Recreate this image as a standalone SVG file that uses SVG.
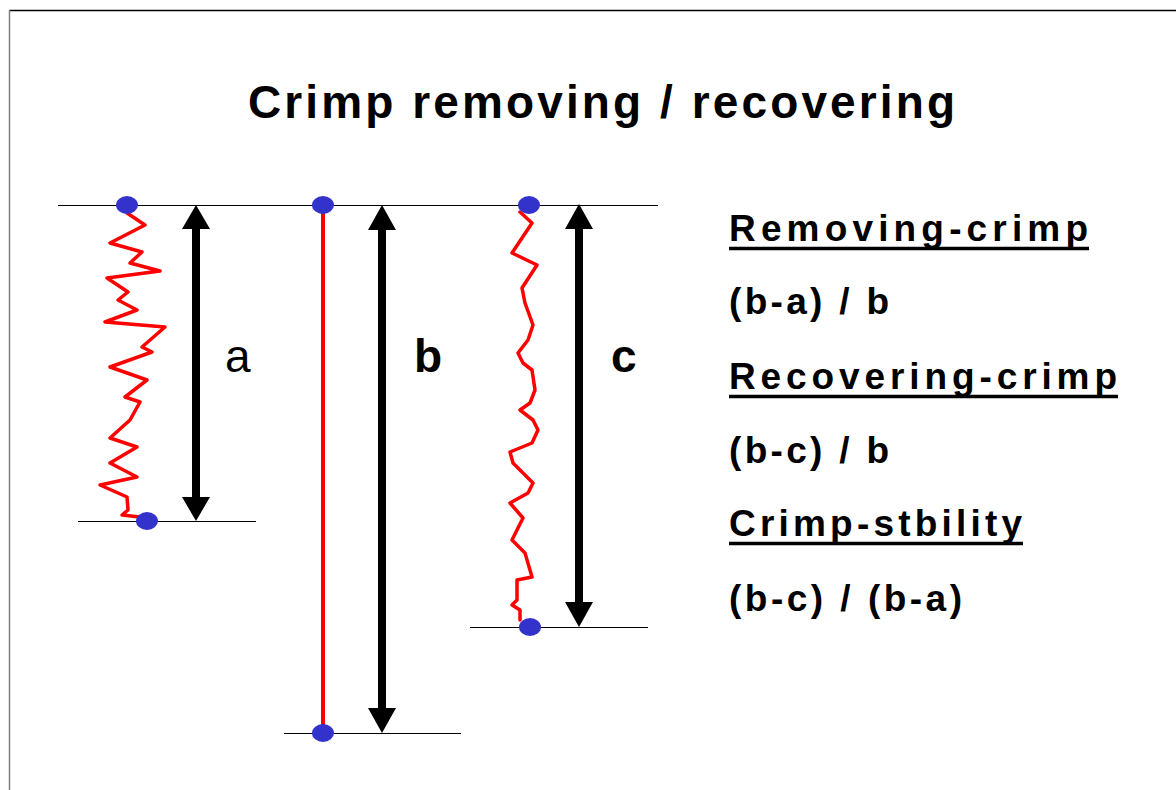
<svg xmlns="http://www.w3.org/2000/svg" width="1176" height="790" viewBox="0 0 1176 790">
<defs>
<style>
.frame{stroke-width:1.5;fill:none}
.base{stroke:#000;stroke-width:1}
.fibre{fill:none;stroke:#ff0000;stroke-width:3.5;stroke-linejoin:round;stroke-linecap:round}
.dot{fill:#3333cc}
.shaft{stroke:#000;stroke-width:8}
.head{fill:#000}
.title{font-family:"Liberation Sans",Arial,sans-serif;font-weight:bold;font-size:46px;fill:#000}
.lbl{font-family:"Liberation Sans",Arial,sans-serif;font-size:46px;fill:#000}
.lblb{font-family:"Liberation Sans",Arial,sans-serif;font-size:46px;font-weight:bold;fill:#000}
.eq{font-family:"Liberation Sans",Arial,sans-serif;font-weight:bold;font-size:37px;fill:#000}
.ul{stroke:#000;stroke-width:3.5}
</style>
</defs>
<rect width="1176" height="790" fill="#fff"/>
<g id="frame">
<line x1="9" y1="10.5" x2="1176" y2="10.5" stroke="#000" class="frame"/>
<line x1="9.5" y1="10" x2="9.5" y2="790" stroke="#808080" class="frame"/>
</g>
<g id="title">
<text class="title" x="248" y="118" textLength="707" lengthAdjust="spacing">Crimp removing / recovering</text>
</g>
<g id="baselines">
<line class="base" x1="58" y1="205.5" x2="658" y2="205.5"/>
<line class="base" x1="78" y1="521.5" x2="256" y2="521.5"/>
<line class="base" x1="284" y1="733.5" x2="461" y2="733.5"/>
<line class="base" x1="470" y1="627.5" x2="648" y2="627.5"/>
</g>
<g id="fibre-a">
<polyline class="fibre" points="127,213 145,225 110,243 142,252 130,263 160,271 107,278 128,292 118,300 137,310 105,322 165,327 142,347 152,352 110,367 147,380 125,397 140,402 130,420 110,438 137,447 110,463 137,477 100,485 127,497 128,510 122,515 140,517"/>
<ellipse class="dot" cx="127" cy="205" rx="11" ry="9"/>
<ellipse class="dot" cx="147" cy="521" rx="11" ry="9"/>
</g>
<g id="fibre-b">
<line x1="323" y1="205" x2="323" y2="733" stroke="#ff0000" stroke-width="4"/>
<ellipse class="dot" cx="323" cy="205" rx="11" ry="9"/>
<ellipse class="dot" cx="323" cy="733" rx="11" ry="9"/>
</g>
<g id="fibre-c">
<polyline class="fibre" points="520,212 532,223 512,253 537,265 522,288 525,303 533,325 528,340 518,353 523,363 532,370 535,390 530,403 520,410 533,420 538,430 532,443 510,452 513,463 523,473 533,483 528,493 510,503 523,518 512,540 525,553 532,577 517,580 517,600 512,605 520,610 520,620"/>
<ellipse class="dot" cx="529" cy="205" rx="11" ry="9"/>
<ellipse class="dot" cx="530" cy="627" rx="11" ry="9"/>
</g>
<g id="connectors">
<g id="arrow-a">
<line class="shaft" x1="196" y1="226" x2="196" y2="500"/>
<polygon class="head" points="196,205 210,229 182,229"/>
<polygon class="head" points="196,521 210,497 182,497"/>
</g>
<g id="arrow-b">
<line class="shaft" x1="382" y1="226" x2="382" y2="712"/>
<polygon class="head" points="382,205 396,230 368,230"/>
<polygon class="head" points="382,733 396,708 368,708"/>
</g>
<g id="arrow-c">
<line class="shaft" x1="579" y1="226" x2="579" y2="606"/>
<polygon class="head" points="579,204 593,229 565,229"/>
<polygon class="head" points="579,627 593,602 565,602"/>
</g>
</g>
<g id="labels">
<text class="lbl" x="225" y="372">a</text>
<text class="lblb" x="414" y="372">b</text>
<text class="lblb" x="611" y="372">c</text>
</g>
<g id="formulas">
<text class="eq" x="729" y="241" textLength="359" lengthAdjust="spacing">Removing-crimp</text>
<line class="ul" x1="729" y1="248.5" x2="1089" y2="248.5"/>
<text class="eq" x="729" y="314" textLength="160" lengthAdjust="spacing">(b-a) / b</text>
<text class="eq" x="729" y="389" textLength="388" lengthAdjust="spacing">Recovering-crimp</text>
<line class="ul" x1="729" y1="396.5" x2="1118" y2="396.5"/>
<text class="eq" x="729" y="463" textLength="160" lengthAdjust="spacing">(b-c) / b</text>
<text class="eq" x="729" y="536" textLength="293" lengthAdjust="spacing">Crimp-stbility</text>
<line class="ul" x1="729" y1="543.5" x2="1023" y2="543.5"/>
<text class="eq" x="729" y="611" textLength="233" lengthAdjust="spacing">(b-c) / (b-a)</text>
</g>
</svg>
